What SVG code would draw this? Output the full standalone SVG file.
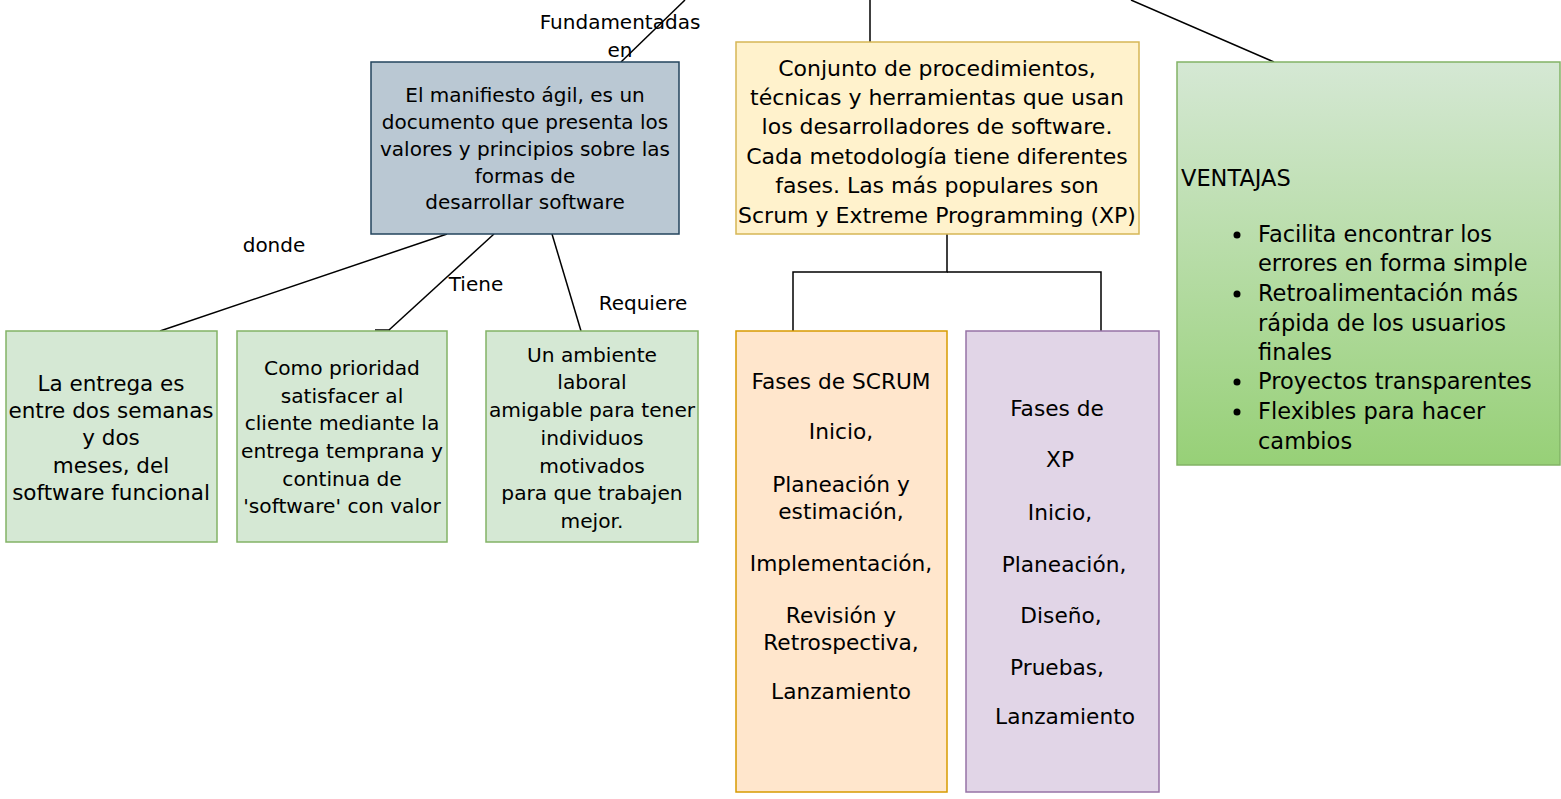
<svg xmlns="http://www.w3.org/2000/svg" width="1561" height="799" viewBox="0 0 1561 799">
<style>
.t{font-family:"DejaVu Sans","Liberation Sans",sans-serif;font-size:20px;fill:#000;text-anchor:middle}
.y{font-family:"DejaVu Sans","Liberation Sans",sans-serif;font-size:22px;fill:#000;text-anchor:middle}
.p{font-family:"DejaVu Sans","Liberation Sans",sans-serif;font-size:21.7px;fill:#000;text-anchor:middle}
.c{font-family:"DejaVu Sans","Liberation Sans",sans-serif;font-size:20.2px;fill:#000;text-anchor:middle}
.cm{font-family:"DejaVu Sans","Liberation Sans",sans-serif;font-size:21.5px;fill:#000;text-anchor:middle}
.v{font-family:"DejaVu Sans","Liberation Sans",sans-serif;font-size:22.5px;fill:#000}
.lbl{font-family:"DejaVu Sans","Liberation Sans",sans-serif;font-size:20px;fill:#000;text-anchor:middle}
.e{fill:none;stroke:#000;stroke-width:1.5}
</style>
<defs>
<linearGradient id="g" x1="0" y1="0" x2="0" y2="1">
<stop offset="0" stop-color="#d5e8d4"/>
<stop offset="1" stop-color="#97d077"/>
</linearGradient>
</defs>
<rect width="1561" height="799" fill="#fff"/>
<g id="connectors">
<line class="e" x1="685" y1="0" x2="621" y2="62"/>
<line class="e" x1="870" y1="0" x2="870" y2="42"/>
<line class="e" x1="1131" y1="0" x2="1274" y2="62"/>
<line class="e" x1="447" y1="234" x2="160" y2="331"/>
<line class="e" x1="494" y1="234" x2="389" y2="330"/>
<line class="e" x1="375" y1="330" x2="390" y2="330" stroke-width="2"/>
<line class="e" x1="552" y1="234" x2="581" y2="331"/>
<polyline class="e" points="947,234 947,272 793,272 793,331"/>
<polyline class="e" points="947,272 1101,272 1101,331"/>
<text class="lbl" x="620" y="29">Fundamentadas</text>
<text class="lbl" x="620" y="57">en</text>
<text class="lbl" x="274" y="252">donde</text>
<text class="lbl" x="476" y="291">Tiene</text>
<text class="lbl" x="643" y="310">Requiere</text>
</g>
<g id="manifiesto">
<rect x="371" y="62" width="308" height="172" fill="#bac8d3" stroke="#23445d" stroke-width="1.5"/>
<text class="t" x="525" y="102">El manifiesto ágil, es un</text>
<text class="t" x="525" y="129">documento que presenta los</text>
<text class="t" x="525" y="156">valores y principios sobre las</text>
<text class="t" x="525" y="183">formas de</text>
<text class="t" x="525" y="209">desarrollar software</text>
</g>
<g id="metodologia">
<rect x="736" y="42" width="403" height="192" fill="#fff2cc" stroke="#d6b656" stroke-width="1.5"/>
<text class="y" x="937" y="76">Conjunto de procedimientos,</text>
<text class="y" x="937" y="105">técnicas y herramientas que usan</text>
<text class="y" x="937" y="134">los desarrolladores de software.</text>
<text class="y" x="937" y="164">Cada metodología tiene diferentes</text>
<text class="y" x="937" y="193">fases. Las más populares son</text>
<text class="y" x="937" y="223">Scrum y Extreme Programming (XP)</text>
</g>
<g id="ventajas">
<rect x="1177" y="62" width="383" height="403" fill="url(#g)" stroke="#82b366" stroke-width="1.5"/>
<text class="v" x="1181" y="186">VENTAJAS</text>
<g fill="#000"><circle cx="1237" cy="235" r="3.5"/><circle cx="1237" cy="294" r="3.5"/><circle cx="1237" cy="382" r="3.5"/><circle cx="1237" cy="412" r="3.5"/></g>
<text class="v" x="1258" y="242">Facilita encontrar los</text>
<text class="v" x="1258" y="271">errores en forma simple</text>
<text class="v" x="1258" y="301">Retroalimentación más</text>
<text class="v" x="1258" y="331">rápida de los usuarios</text>
<text class="v" x="1258" y="360">finales</text>
<text class="v" x="1258" y="389">Proyectos transparentes</text>
<text class="v" x="1258" y="419">Flexibles para hacer</text>
<text class="v" x="1258" y="449">cambios</text>
</g>
<g id="entrega">
<rect x="6" y="331" width="211" height="211" fill="#d5e8d4" stroke="#82b366" stroke-width="1.5"/>
<text class="cm" x="111" y="391">La entrega es</text>
<text class="cm" x="111" y="418">entre dos semanas</text>
<text class="cm" x="111" y="445">y dos</text>
<text class="cm" x="111" y="473">meses, del</text>
<text class="cm" x="111" y="500">software funcional</text>
</g>
<g id="prioridad">
<rect x="237" y="331" width="210" height="211" fill="#d5e8d4" stroke="#82b366" stroke-width="1.5"/>
<text class="c" x="342" y="375">Como prioridad</text>
<text class="c" x="342" y="403">satisfacer al</text>
<text class="c" x="342" y="430">cliente mediante la</text>
<text class="c" x="342" y="458">entrega temprana y</text>
<text class="c" x="342" y="486">continua de</text>
<text class="c" x="342" y="513">'software' con valor</text>
</g>
<g id="ambiente">
<rect x="486" y="331" width="212" height="211" fill="#d5e8d4" stroke="#82b366" stroke-width="1.5"/>
<text class="c" x="592" y="362">Un  ambiente</text>
<text class="c" x="592" y="389">laboral</text>
<text class="c" x="592" y="417">amigable para tener</text>
<text class="c" x="592" y="445">individuos</text>
<text class="c" x="592" y="473">motivados</text>
<text class="c" x="592" y="500">para que trabajen</text>
<text class="c" x="592" y="528">mejor.</text>
</g>
<g id="scrum">
<rect x="736" y="331" width="211" height="461" fill="#ffe6cc" stroke="#d79b00" stroke-width="1.5"/>
<text class="p" x="841" y="389">Fases de SCRUM</text>
<text class="p" x="841" y="439">Inicio,</text>
<text class="p" x="841" y="492">Planeación y</text>
<text class="p" x="841" y="519">estimación,</text>
<text class="p" x="841" y="571">Implementación,</text>
<text class="p" x="841" y="623">Revisión y</text>
<text class="p" x="841" y="650">Retrospectiva,</text>
<text class="p" x="841" y="699">Lanzamiento</text>
</g>
<g id="xp">
<rect x="966" y="331" width="193" height="461" fill="#e1d5e7" stroke="#9673a6" stroke-width="1.5"/>
<text class="p" x="1057" y="416">Fases de</text>
<text class="p" x="1060" y="467">XP</text>
<text class="p" x="1060" y="520">Inicio,</text>
<text class="p" x="1064" y="572">Planeación,</text>
<text class="p" x="1061" y="623">Diseño,</text>
<text class="p" x="1057" y="675">Pruebas,</text>
<text class="p" x="1065" y="724">Lanzamiento</text>
</g>
</svg>
